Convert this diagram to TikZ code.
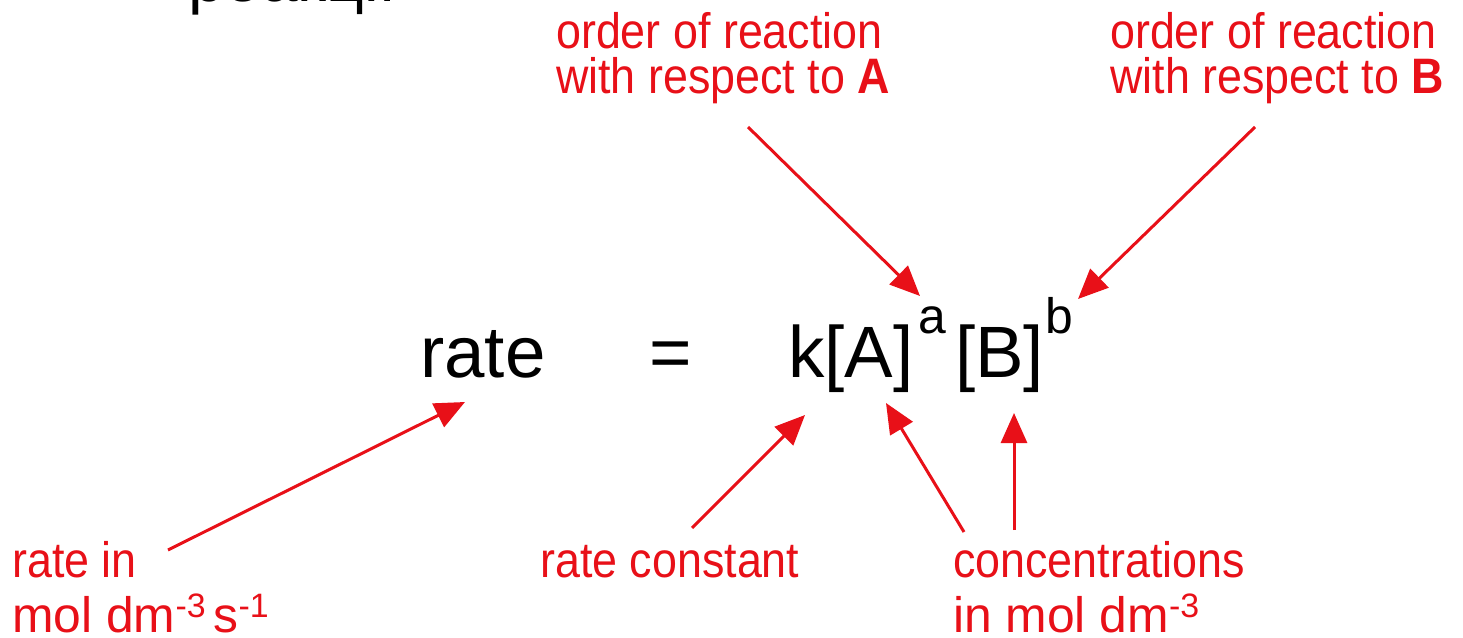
\documentclass[tikz,border=0pt]{standalone}
\usepackage{fontspec}
\setmainfont{Liberation Sans}
\newfontfamily\lblfont[FakeStretch=0.9]{Liberation Sans}
\newfontfamily\lblwide{Liberation Sans}
\usetikzlibrary{arrows.meta}
\definecolor{lblred}{RGB}{232,16,24}
\newcommand{\twoln}[3]{\vtop{\baselineskip=#1\lineskiplimit=-1000pt\lineskip=0pt\hbox{#2}\hbox{#3}}}
\newcommand{\supr}[1]{\raisebox{15bp}{\fontsize{34}{34}\selectfont #1}}
\newcommand{\eqsup}[1]{\raisebox{44bp}{\fontsize{50}{50}\selectfont #1}}
\begin{document}
\begin{tikzpicture}[x=1bp,y=-1bp,
  lbl/.style={text=lblred, font=\lblfont\fontsize{50}{50}\selectfont, inner sep=0pt, anchor=base west},
  eq/.style={text=black, font=\fontsize{73}{73}\selectfont, inner sep=0pt},
  arr/.style={draw=lblred, line width=3bp, -{Triangle[length=30bp,width=26bp]}}]
\useasboundingbox (0,0) rectangle (1463,638);
\begin{scope}
\clip (0,0) rectangle (1463,638);
\node[eq, font=\fontsize{66}{66}\selectfont, anchor=base west] (title) at (188,2) {реакції};
\end{scope}
% equation
\node[eq, anchor=base west] (rate) at (420,377) {rate};
\node[eq, anchor=base] (equals) at (671,377) {=};
\node[eq, anchor=base west] (rhs) at (788,377) {k[A]\hspace{5bp}\eqsup{a}\hspace{9bp}[B]\hspace{1bp}\eqsup{b}};
% labels
\node[lbl] (ordA) at (556,49) {\twoln{45bp}{order of reaction}{with respect to \textbf{A}}};
\node[lbl] (ordB) at (1110,49) {\twoln{45bp}{order of reaction}{with respect to \textbf{B}}};
\node[lbl] (rateunit) at (12,577) {\twoln{55bp}{rate in}{\lblwide mol dm\supr{-3}\hspace{8bp}s\supr{-1}}};
\node[lbl] (kname) at (540,577) {rate constant};
\node[lbl] (conc) at (953,577) {\twoln{55bp}{concentrations}{\lblwide in mol dm\supr{-3}}};
% arrow end points
\coordinate (sA) at (748,127);  \coordinate (tA) at (920,296);
\coordinate (sB) at (1255,127); \coordinate (tB) at (1078,299);
\coordinate (sR) at (168,550);  \coordinate (tR) at (465,402);
\coordinate (sK) at (692,528);  \coordinate (tK) at (805,415);
\coordinate (sC1) at (964,532); \coordinate (tC1) at (886,403);
\coordinate (sC2) at (1014,530); \coordinate (tC2) at (1014,413);
\draw[arr] (sA) -- (tA);
\draw[arr] (sB) -- (tB);
\draw[arr] (sR) -- (tR);
\draw[arr] (sK) -- (tK);
\draw[arr] (sC1) -- (tC1);
\draw[arr] (sC2) -- (tC2);
\end{tikzpicture}
\end{document}
